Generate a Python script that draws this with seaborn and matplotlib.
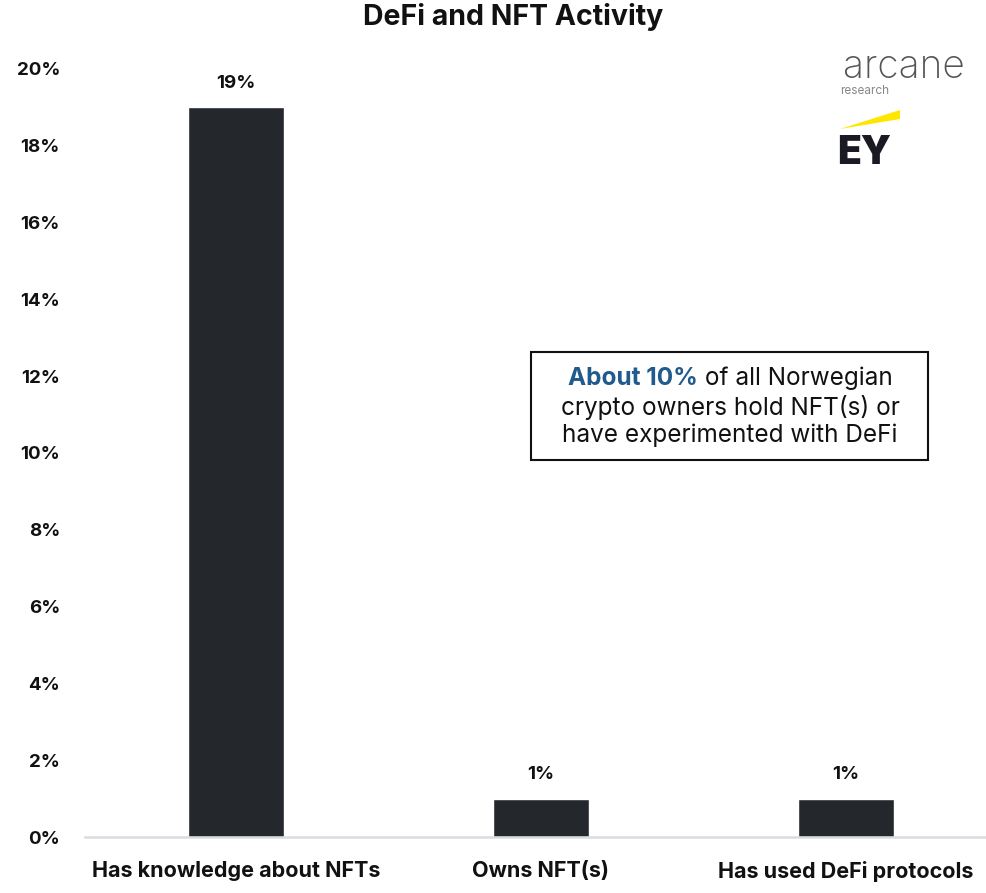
import matplotlib
matplotlib.use("Agg")
import matplotlib.pyplot as plt
import seaborn as sns
import pandas as pd
from matplotlib.patches import Polygon, Rectangle

categories = ["Has knowledge about NFTs", "Owns NFT(s)", "Has used DeFi protocols"]
values = [19, 1, 1]
value_labels = ["19%", "1%", "1%"]
y_ticks = [0, 2, 4, 6, 8, 10, 12, 14, 16, 18, 20]
y_tick_labels = [f"{t}%" for t in y_ticks]

sns.set_theme(style="white")
plt.rcParams["font.family"] = ["Inter", "DejaVu Sans"]

W, H = 986, 893
fig = plt.figure(figsize=(W / 100, H / 100), dpi=100)
ax = fig.add_axes([85 / W, 56 / H, 1 - 85 / W, 768 / H])

df = pd.DataFrame({"category": categories, "value": values})
sns.barplot(data=df, x="category", y="value", color="#24272c", width=0.315,
            saturation=1, ax=ax)

ax.set_xlim(-0.495, 2.459)
ax.set_ylim(0, 20)
ax.set_yticks(y_ticks)
ax.set_yticklabels(y_tick_labels, fontsize=13.5, fontweight="bold", color="#111111")
ax.tick_params(axis="y", length=0, pad=18)
ax.tick_params(axis="x", length=0, pad=17)
for lbl in ax.get_xticklabels():
    lbl.set_fontsize(15.5)
    lbl.set_fontweight("bold")
    lbl.set_color("#111111")
ax.set_xlabel("")
ax.set_ylabel("")
for side in ["top", "right", "left"]:
    ax.spines[side].set_visible(False)
ax.spines["bottom"].set_color("#d9dce1")
ax.spines["bottom"].set_linewidth(1.8)

for i, (v, lab) in enumerate(zip(values, value_labels)):
    ax.annotate(lab, (i, v), xytext=(0, 11), textcoords="offset points",
                ha="center", va="bottom", fontsize=13.5, fontweight="bold",
                color="#111111")

fig.text(513 / W, 1 - 17 / H, "DeFi and NFT Activity", ha="center", va="center",
         fontsize=20.5, fontweight="bold", color="#111111")

# callout box
fig.patches.append(Rectangle((531 / W, 1 - 460 / H), (928 - 531) / W, (460 - 352) / H,
                             transform=fig.transFigure, fill=False,
                             edgecolor="#111111", linewidth=1.5))
cx = 730 / W
fig.canvas.draw()
renderer = fig.canvas.get_renderer()
t1 = fig.text(0, 1 - 378 / H, "About 10%", fontsize=17.5, fontweight="bold",
              color="#215a8c", va="center")
t2 = fig.text(0, 1 - 378 / H, " of all Norwegian", fontsize=17.5, color="#111111",
              va="center")
w1 = t1.get_window_extent(renderer).width / W
w2 = t2.get_window_extent(renderer).width / W
x0 = cx - (w1 + w2) / 2
t1.set_x(x0)
t2.set_x(x0 + w1)
fig.text(cx, 1 - 407 / H, "crypto owners hold NFT(s) or", fontsize=17.5,
         color="#111111", ha="center", va="center")
fig.text(cx, 1 - 435 / H, "have experimented with DeFi", fontsize=17.5,
         color="#111111", ha="center", va="center")

# logos
fig.text(904 / W, 1 - 68 / H, "arcane", fontsize=28, color="#555555",
         ha="center", va="center", fontweight="light")
fig.text(840 / W, 1 - 91 / H, "research", fontsize=8.5, color="#888888",
         ha="left", va="center")
fig.patches.append(Polygon([(840 / W, 1 - 129 / H), (900 / W, 1 - 110 / H),
                            (900 / W, 1 - 119 / H)], closed=True,
                           transform=fig.transFigure, facecolor="#ffe600",
                           edgecolor="none"))
fig.text(837 / W, 1 - 154 / H, "EY", fontsize=28, fontweight="black",
         color="#1a1a24", ha="left", va="center")

fig.savefig("out.png", dpi=100, facecolor="white")
